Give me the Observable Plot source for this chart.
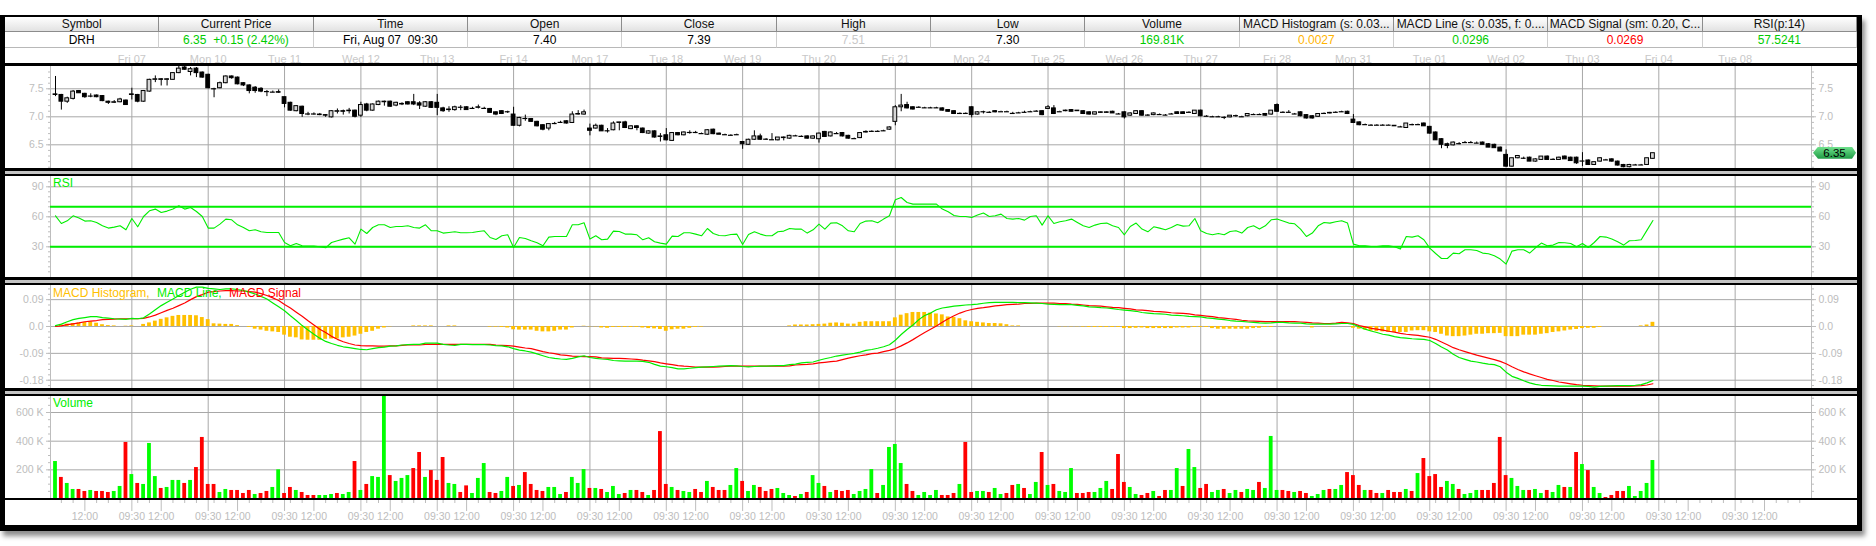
<!DOCTYPE html>
<html><head><meta charset="utf-8">
<script src="https://cdn.jsdelivr.net/npm/d3@7"></script>
<script src="https://cdn.jsdelivr.net/npm/@observablehq/plot@0.6"></script>
<style>
body{margin:0;background:#fff;font-family:"Liberation Sans",Arial,sans-serif;}
#root{position:relative;width:1876px;height:546px;overflow:hidden;background:#fff;}
</style></head><body><div id="root"></div>
<script>
// ---------------- DATA ----------------
const headerLabels = ["Symbol","Current Price","Time","Open","Close","High","Low","Volume","MACD Histogram (s: 0.03...","MACD Line (s: 0.035, f: 0....","MACD Signal (sm: 0.20, C...","RSI(p:14)"];
const headerValues = ["DRH","6.35  +0.15 (2.42%)","Fri, Aug 07  09:30","7.40","7.39","7.51","7.30","169.81K","0.0027","0.0296","0.0269","57.5241"];
const tradingDays = ["Thu 06","Fri 07","Mon 10","Tue 11","Wed 12","Thu 13","Fri 14","Mon 17","Tue 18","Wed 19","Thu 20","Fri 21","Mon 24","Tue 25","Wed 26","Thu 27","Fri 28","Mon 31","Tue 01","Wed 02","Thu 03"];
const axisDayLabels = ["Fri 07","Mon 10","Tue 11","Wed 12","Thu 13","Fri 14","Mon 17","Tue 18","Wed 19","Thu 20","Fri 21","Mon 24","Tue 25","Wed 26","Thu 27","Fri 28","Mon 31","Tue 01","Wed 02","Thu 03","Fri 04","Tue 08"];
const sessionSlots = ["09:30","10:00","10:30","11:00","11:30","12:00","12:30","13:00","13:30","14:00","14:30","15:00","15:30"];
const timeAxisLabels = ["09:30","12:00"];
const hourTickLabels = ["10:00","11:00","13:00","14:00","15:00"];
const priceTicks = [6.5, 7.0, 7.5];
const rsiTicks = [30, 60, 90];
const rsiBands = [70, 30];
const macdTicks = [0.09, 0.0, -0.09, -0.18];
const volumeTicks = [200, 400, 600];

const openPrice = [
7.40,7.39,7.27,7.32,7.46,7.41,7.37,7.38,7.37,7.27,7.25,7.26,7.29,
7.40,7.39,7.27,7.45,7.66,7.67,7.66,7.66,7.78,7.88,7.80,7.86,7.79,
7.75,7.50,7.51,7.60,7.72,7.70,7.60,7.56,7.52,7.50,7.45,7.44,7.44,
7.35,7.25,7.10,7.18,7.05,7.05,7.04,7.03,6.99,7.09,7.10,7.10,7.11,
7.02,7.22,7.11,7.21,7.27,7.27,7.20,7.23,7.26,7.26,7.24,7.18,7.26,
7.25,7.15,7.12,7.12,7.17,7.17,7.15,7.16,7.15,7.14,7.08,7.10,7.09,
7.04,6.84,6.97,6.96,6.91,6.85,6.79,6.88,6.90,6.92,6.89,7.04,7.04,
6.79,6.79,6.84,6.75,6.76,6.89,6.90,6.78,6.83,6.79,6.70,6.74,6.64,
6.67,6.57,6.71,6.67,6.72,6.72,6.70,6.68,6.77,6.70,6.68,6.67,6.68,
6.55,6.50,6.59,6.65,6.60,6.59,6.58,6.63,6.61,6.66,6.65,6.65,6.61,
6.60,6.73,6.65,6.70,6.71,6.66,6.61,6.62,6.72,6.74,6.74,6.75,6.77,
6.91,7.17,7.21,7.17,7.17,7.16,7.16,7.16,7.15,7.12,7.10,7.06,7.06,
7.17,7.04,7.09,7.08,7.10,7.09,7.09,7.06,7.07,7.08,7.09,7.10,7.10,
7.14,7.15,7.09,7.10,7.12,7.11,7.10,7.08,7.04,7.07,7.07,7.09,7.05,
7.08,7.02,7.05,7.10,7.03,7.03,7.04,7.03,7.05,7.08,7.08,7.08,7.05,
7.11,7.01,7.00,7.00,6.99,6.99,7.02,7.00,7.01,7.04,7.04,7.05,7.04,
7.21,7.08,7.08,7.05,7.08,7.03,7.01,7.00,7.06,7.06,7.08,7.09,7.09,
6.95,6.90,6.86,6.85,6.85,6.85,6.85,6.84,6.82,6.80,6.86,6.86,6.88,
6.82,6.72,6.60,6.51,6.49,6.52,6.54,6.54,6.53,6.54,6.51,6.50,6.45,
6.32,6.11,6.26,6.26,6.27,6.20,6.23,6.29,6.24,6.23,6.29,6.27,6.27,
6.21,6.22,6.14,6.20,6.23,6.24,6.20,6.14,6.10,6.14,6.14,6.14,6.25];
const highPrice = [
7.72,7.40,7.35,7.47,7.47,7.42,7.41,7.39,7.38,7.28,7.29,7.33,7.30,
7.51,7.40,7.47,7.67,7.73,7.68,7.68,7.79,7.90,7.90,7.88,7.88,7.80,
7.76,7.51,7.62,7.73,7.73,7.71,7.61,7.57,7.54,7.52,7.47,7.46,7.48,
7.35,7.26,7.20,7.19,7.08,7.07,7.06,7.04,7.11,7.14,7.12,7.15,7.12,
7.26,7.24,7.23,7.28,7.28,7.28,7.26,7.25,7.27,7.40,7.27,7.27,7.27,
7.40,7.17,7.18,7.19,7.20,7.18,7.17,7.21,7.17,7.15,7.09,7.11,7.10,
7.17,6.99,7.03,6.97,6.92,6.86,6.88,6.90,6.92,6.93,7.09,7.11,7.12,
6.87,6.87,6.85,6.79,6.91,6.90,6.92,6.84,6.84,6.80,6.75,6.75,6.70,
6.79,6.72,6.72,6.73,6.75,6.74,6.71,6.77,6.78,6.71,6.69,6.68,6.69,
6.56,6.60,6.75,6.69,6.61,6.70,6.63,6.64,6.67,6.67,6.66,6.66,6.66,
6.71,6.74,6.73,6.72,6.72,6.67,6.62,6.72,6.75,6.75,6.75,6.76,6.82,
7.20,7.40,7.26,7.18,7.18,7.17,7.17,7.17,7.16,7.13,7.11,7.07,7.07,
7.18,7.09,7.10,7.09,7.11,7.10,7.10,7.08,7.08,7.10,7.10,7.11,7.11,
7.20,7.20,7.10,7.12,7.13,7.11,7.11,7.09,7.08,7.09,7.09,7.10,7.06,
7.09,7.07,7.11,7.11,7.04,7.07,7.05,7.04,7.06,7.09,7.09,7.09,7.11,
7.12,7.02,7.01,7.01,7.00,7.02,7.03,7.01,7.05,7.05,7.05,7.06,7.11,
7.23,7.09,7.11,7.06,7.09,7.04,7.02,7.05,7.07,7.08,7.09,7.10,7.10,
7.04,6.91,6.87,6.86,6.86,6.86,6.86,6.84,6.83,6.88,6.87,6.87,6.89,
6.83,6.73,6.61,6.53,6.55,6.54,6.56,6.56,6.55,6.55,6.52,6.51,6.46,
6.41,6.26,6.31,6.28,6.28,6.25,6.29,6.30,6.25,6.28,6.30,6.28,6.28,
6.36,6.23,6.19,6.27,6.24,6.25,6.21,6.15,6.15,6.15,6.15,6.26,6.35];
const lowPrice = [
7.36,7.12,7.24,7.30,7.42,7.33,7.34,7.34,7.27,7.22,7.24,7.25,7.21,
7.30,7.25,7.26,7.44,7.61,7.55,7.55,7.65,7.77,7.83,7.73,7.70,7.69,
7.50,7.34,7.50,7.59,7.67,7.57,7.54,7.41,7.42,7.43,7.36,7.43,7.42,
7.16,7.10,7.09,6.99,7.02,7.03,7.02,6.99,6.98,7.05,7.03,7.05,6.98,
6.99,7.09,7.10,7.20,7.19,7.17,7.18,7.20,7.21,7.20,7.13,7.17,7.15,
7.02,7.08,7.08,7.10,7.11,7.12,7.13,7.14,7.13,7.06,7.02,7.04,7.06,
6.83,6.82,6.92,6.90,6.82,6.75,6.75,6.86,6.88,6.87,6.88,7.03,7.03,
6.66,6.78,6.74,6.71,6.75,6.75,6.79,6.77,6.75,6.70,6.69,6.62,6.55,
6.57,6.56,6.66,6.66,6.69,6.70,6.69,6.67,6.68,6.68,6.67,6.66,6.67,
6.42,6.49,6.58,6.58,6.58,6.58,6.57,6.57,6.60,6.65,6.64,6.60,6.60,
6.53,6.63,6.64,6.69,6.64,6.60,6.60,6.61,6.71,6.73,6.73,6.74,6.76,
6.84,7.09,7.14,7.12,7.16,7.15,7.15,7.15,7.10,7.08,7.04,7.04,7.05,
6.98,7.03,7.05,7.06,7.07,7.09,7.08,7.05,7.06,7.07,7.08,7.09,7.02,
7.13,7.04,7.09,7.09,7.09,7.10,7.04,7.03,7.03,7.06,7.06,7.06,7.04,
6.96,7.01,7.04,7.01,7.01,7.02,7.03,7.02,7.04,7.05,7.05,7.07,7.04,
7.00,7.00,6.99,6.99,6.95,6.98,6.99,6.99,7.00,7.03,7.03,7.01,7.03,
7.08,7.07,7.07,7.04,7.00,6.96,6.96,6.99,7.06,7.05,7.07,7.08,7.04,
6.88,6.84,6.85,6.84,6.84,6.84,6.85,6.83,6.81,6.80,6.84,6.85,6.83,
6.69,6.58,6.43,6.43,6.48,6.50,6.53,6.53,6.52,6.50,6.45,6.44,6.38,
6.10,6.10,6.25,6.24,6.20,6.19,6.22,6.23,6.23,6.22,6.24,6.21,6.15,
6.11,6.13,6.13,6.19,6.22,6.19,6.12,6.09,6.09,6.13,6.13,6.13,6.24];
const closePrice = [
7.39,7.27,7.33,7.45,7.42,7.35,7.37,7.35,7.28,7.25,7.26,7.31,7.21,
7.39,7.27,7.46,7.66,7.67,7.66,7.67,7.78,7.86,7.84,7.85,7.78,7.70,
7.51,7.50,7.60,7.72,7.69,7.58,7.56,7.46,7.46,7.45,7.45,7.44,7.43,
7.23,7.11,7.19,7.05,7.05,7.05,7.03,7.02,7.10,7.10,7.09,7.11,7.00,
7.21,7.11,7.22,7.27,7.26,7.18,7.25,7.22,7.22,7.22,7.20,7.26,7.16,
7.16,7.10,7.13,7.17,7.17,7.12,7.15,7.17,7.15,7.07,7.04,7.05,7.09,
6.84,6.98,6.97,6.91,6.83,6.77,6.87,6.88,6.90,6.88,7.04,7.05,7.08,
6.75,6.84,6.74,6.75,6.88,6.90,6.80,6.83,6.80,6.71,6.74,6.63,6.65,
6.58,6.71,6.67,6.72,6.72,6.72,6.70,6.76,6.69,6.68,6.68,6.67,6.68,
6.51,6.59,6.65,6.59,6.60,6.59,6.63,6.62,6.66,6.66,6.65,6.61,6.65,
6.70,6.64,6.72,6.70,6.65,6.61,6.61,6.71,6.73,6.74,6.74,6.75,6.81,
7.17,7.20,7.15,7.13,7.17,7.16,7.16,7.16,7.11,7.09,7.05,7.06,7.06,
7.03,7.08,7.09,7.08,7.08,7.09,7.09,7.06,7.07,7.08,7.09,7.10,7.03,
7.17,7.05,7.09,7.11,7.09,7.10,7.05,7.04,7.08,7.08,7.08,7.06,7.05,
6.99,7.06,7.10,7.02,7.03,7.06,7.04,7.03,7.05,7.05,7.05,7.08,7.11,
7.01,7.01,7.00,7.00,6.99,7.02,7.02,7.00,7.05,7.04,7.04,7.02,7.11,
7.09,7.08,7.08,7.05,7.01,6.97,6.97,7.05,7.06,7.07,7.08,7.09,7.05,
6.89,6.85,6.86,6.85,6.85,6.85,6.85,6.83,6.82,6.88,6.86,6.86,6.83,
6.70,6.58,6.50,6.48,6.54,6.52,6.54,6.54,6.53,6.50,6.45,6.44,6.38,
6.11,6.26,6.30,6.26,6.20,6.24,6.29,6.23,6.24,6.27,6.24,6.21,6.17,
6.21,6.14,6.19,6.26,6.23,6.20,6.13,6.10,6.14,6.14,6.14,6.26,6.35];
// volume in thousands of shares
const volumeK = [
258,147,105,63,63,49,56,49,49,42,49,84,391,
167,105,98,384,153,70,77,126,126,105,126,216,426,
98,98,42,63,56,56,35,56,28,35,49,77,200,
35,77,56,42,21,21,21,21,28,35,28,42,258,
56,98,153,147,716,160,119,140,160,209,321,147,195,
126,286,105,98,42,88,35,140,244,42,35,49,147,
84,91,181,98,56,49,77,77,28,42,147,105,202,
70,70,63,42,84,28,35,56,56,42,21,56,467,
98,77,56,49,42,63,42,119,77,56,56,91,209,
119,49,91,77,49,63,70,35,21,14,28,42,160,
105,84,42,56,49,56,28,49,63,202,35,91,356,
377,244,98,49,21,42,21,56,21,21,35,98,391,
42,49,49,42,70,28,35,91,98,70,28,112,321,
91,98,49,42,209,35,35,42,42,70,119,63,307,
112,77,28,21,35,49,14,56,56,209,84,342,216,
70,98,42,56,63,35,56,42,63,56,112,70,433,
56,56,49,42,49,35,14,28,56,63,63,91,181,
160,91,56,56,35,35,56,42,42,63,49,174,279,
153,167,77,119,98,63,28,35,56,56,56,105,426,
160,140,84,56,56,63,35,56,42,91,77,77,321,
237,195,77,35,7,21,49,49,84,14,49,105,265];
// g = up bar, r = down bar, one string per trading day
const volumeDir = [
"grggrrgrrrggr","grgggrgggrgrr","rrggrrrrgrrgg","rrgrrrgggrggr","grgggrgggrrgr",
"rrggrrgggrrgg","rgrrrrgggrggg","rgrgggrgrrgrr","rgrggrrgrrrgg","rggrrrgggrgrg",
"grgrrrggggrgg","ggrrggggrrrgr","rggrggrrgrggr","grgggrrrgggrr","rggrrgrrggrgg",
"rrggrggrggrgg","grrgrrgggrggr","rrgrrgrrrgrgr","rrrggrgggrrrr","rgggrggrggrgr","grggrrrrggggg"];
const rsiValues = [
61,53.3,56,61,58.7,55.7,56,54.3,51,48.7,49.7,51,47,
58.3,50,60.3,66,67.7,64.3,65.7,67.7,71,67.7,69.3,65.3,60.3,
48.7,48.7,52.7,57.7,57,52,49.3,46,47,45,44.3,44.3,44.3,
34.3,31,33.3,31,30.7,30.7,30,29,34.3,36,37.7,39,32.7,
47.7,43.3,49.3,52,52,49.3,50.3,50.3,51,49.3,48.7,52,46,
46,43.7,44.3,45,44,44,44.3,45.3,46,39.3,37.3,41,42,
29.3,39.3,38.3,36,34,31,39.7,40.3,40.3,40.3,52,52,54,
37.7,41,37,37.7,45.7,45.3,42.7,42.7,42,37,39,35,33.7,
32.7,40.7,40.3,44,44,42.7,41,48.3,43.3,41.3,41,42.3,42.7,
32.3,42.3,45,42.7,41,41,45,45.7,48.3,47.7,47.7,43.7,47,
52.7,47.7,53.7,54,51,46,45,53.3,55.7,56,54,57.7,61,
77,79.3,74.3,72.7,72.7,72.7,72.7,72.7,67.7,65,61.3,60.3,60.3,
59.3,61.7,63.7,60.3,61,62.7,58.3,57.7,58.3,56.7,60.3,61,51.7,
61,53.3,55,56,57.7,54.3,51,49.3,51.7,53.3,53.7,51,49.3,
42,50.3,53.7,47.7,45,50,48.7,47,49.3,52.3,50.7,51,58.3,
46,43.3,42,43.3,42,45.3,46,43.7,49.3,51,47.7,51,57,
57.7,55.7,53.7,53,47.7,40.3,43.7,51,54.3,53.7,55,56,53.7,
32.7,31,31,30.3,30.3,31,31,30,27.7,40.3,39.7,41,37,
28.7,23.3,18.3,18.3,23.7,23,27,27,26.3,23.7,23,21,17.7,
12.7,25.7,27,27,23.7,29,33.7,31,31.7,34.3,34,33.3,30,
33.3,29.3,34.3,40.3,39.7,37.7,35,31.7,36,36.3,37,46.7,56.3];
const macdLine = [
.003,.008,.016,.023,.027,.030,.033,.033,.030,.028,.026,.025,.024,
.027,.026,.029,.042,.056,.070,.081,.092,.104,.115,.125,.132,.132,
.128,.126,.124,.126,.126,.124,.120,.115,.109,.101,.092,.079,.066,
.053,.036,.020,.003,-.012,-.026,-.039,-.050,-.057,-.063,-.068,-.071,-.074,
-.077,-.078,-.074,-.071,-.069,-.066,-.065,-.062,-.061,-.060,-.060,-.056,-.056,
-.056,-.060,-.062,-.063,-.060,-.060,-.061,-.061,-.061,-.062,-.064,-.065,-.068,
-.074,-.079,-.082,-.086,-.092,-.098,-.104,-.107,-.109,-.110,-.107,-.102,-.098,
-.104,-.107,-.109,-.110,-.114,-.115,-.116,-.116,-.116,-.117,-.120,-.127,-.133,
-.135,-.138,-.142,-.142,-.140,-.138,-.136,-.135,-.134,-.133,-.132,-.131,-.132,
-.134,-.135,-.134,-.133,-.133,-.132,-.131,-.131,-.128,-.126,-.122,-.120,-.119,
-.113,-.108,-.104,-.099,-.096,-.093,-.090,-.086,-.080,-.077,-.073,-.068,-.061,
-.046,-.027,-.010,.005,.023,.037,.045,.056,.062,.065,.068,.070,.072,
.073,.075,.078,.080,.081,.081,.081,.081,.080,.080,.079,.078,.077,
.075,.074,.073,.073,.073,.071,.069,.066,.065,.063,.062,.060,.057,
.055,.053,.051,.047,.045,.043,.042,.041,.038,.037,.036,.034,.033,
.032,.029,.027,.025,.023,.020,.018,.017,.015,.014,.012,.011,.012,
.014,.014,.012,.011,.011,.009,.008,.008,.008,.008,.009,.010,.010,
.007,-.001,-.009,-.015,-.020,-.026,-.029,-.034,-.037,-.039,-.041,-.042,-.043,
-.047,-.057,-.069,-.079,-.093,-.104,-.110,-.116,-.119,-.123,-.126,-.128,-.135,
-.153,-.167,-.174,-.182,-.189,-.194,-.197,-.198,-.199,-.200,-.200,-.200,-.200,
-.200,-.201,-.203,-.201,-.200,-.199,-.198,-.198,-.198,-.197,-.195,-.189,-.181];
const macdSignal = [
0,.002,.006,.009,.012,.016,.018,.020,.023,.024,.025,.026,.026,
.026,.026,.027,.032,.038,.046,.054,.061,.070,.079,.090,.100,.107,
.115,.117,.119,.120,.120,.119,.119,.117,.115,.110,.104,.096,.087,
.074,.062,.048,.034,.019,.005,-.009,-.020,-.033,-.043,-.051,-.057,-.062,
-.064,-.065,-.065,-.066,-.066,-.065,-.065,-.063,-.062,-.062,-.062,-.060,-.060,
-.060,-.060,-.060,-.060,-.060,-.060,-.060,-.060,-.060,-.060,-.062,-.063,-.064,
-.066,-.069,-.072,-.074,-.079,-.084,-.088,-.091,-.095,-.097,-.099,-.100,-.101,
-.101,-.102,-.105,-.106,-.107,-.107,-.108,-.109,-.110,-.113,-.115,-.118,-.122,
-.125,-.128,-.131,-.133,-.134,-.136,-.136,-.136,-.136,-.135,-.134,-.133,-.133,
-.133,-.133,-.133,-.133,-.133,-.133,-.133,-.133,-.132,-.129,-.128,-.127,-.125,
-.122,-.120,-.118,-.116,-.111,-.106,-.102,-.098,-.095,-.091,-.089,-.084,-.080,
-.074,-.065,-.055,-.044,-.032,-.020,-.009,.002,.014,.026,.036,.045,.052,
.057,.061,.063,.066,.069,.071,.073,.074,.075,.077,.077,.078,.078,
.078,.078,.077,.077,.075,.074,.072,.070,.069,.068,.066,.064,.063,
.061,.059,.056,.055,.053,.051,.050,.048,.046,.045,.044,.042,.039,
.037,.035,.033,.030,.028,.026,.024,.021,.019,.018,.017,.016,.016,
.016,.016,.016,.016,.015,.014,.012,.011,.010,.010,.011,.014,.012,
.010,.003,-.001,-.006,-.009,-.012,-.016,-.019,-.023,-.026,-.028,-.030,-.033,
-.036,-.043,-.052,-.061,-.071,-.078,-.084,-.090,-.096,-.101,-.106,-.111,-.117,
-.125,-.135,-.144,-.152,-.159,-.165,-.171,-.177,-.181,-.186,-.189,-.192,-.195,
-.197,-.198,-.199,-.200,-.200,-.200,-.200,-.200,-.200,-.199,-.198,-.196,-.192];
const macdHist = [
0,.005,.008,.010,.012,.014,.015,.011,.006,.003,.002,0,.001,
.002,0,.007,.012,.018,.024,.029,.034,.037,.037,.037,.036,.030,
.023,.009,.008,.007,.007,.003,0,-.003,-.009,-.012,-.016,-.018,-.020,
-.029,-.036,-.038,-.045,-.046,-.046,-.046,-.043,-.042,-.042,-.038,-.036,-.032,
-.026,-.020,-.016,-.009,-.005,-.001,0,0,0,.002,.002,.002,.002,
0,0,.002,.002,0,0,0,0,0,-.002,-.002,-.003,-.005,
-.011,-.012,-.012,-.012,-.016,-.018,-.018,-.016,-.012,-.012,-.005,0,.001,
-.001,-.001,-.005,-.006,-.003,-.003,-.003,-.003,-.003,-.005,-.007,-.008,-.010,
-.016,-.011,-.009,-.009,-.006,-.003,-.002,0,0,0,0,0,0,
0,0,0,0,0,0,0,0,.002,.005,.005,.005,.006,
.007,.008,.011,.012,.011,.008,.008,.014,.016,.016,.016,.016,.016,
.029,.038,.043,.047,.047,.047,.045,.042,.039,.032,.030,.026,.019,
.016,.014,.012,.010,.010,.009,.006,.002,.002,0,0,0,0,
0,0,-.001,-.001,-.001,-.001,-.002,-.003,-.003,-.003,-.003,-.003,-.003,
-.007,-.007,-.006,-.005,-.007,-.007,-.007,-.007,-.007,-.005,-.005,-.005,-.003,
-.003,-.003,-.007,-.009,-.009,-.009,-.009,-.009,-.009,-.007,-.006,-.003,-.003,
0,0,0,0,-.001,0,-.005,0,-.001,-.001,0,0,0,
-.006,-.009,-.012,-.016,-.017,-.018,-.020,-.020,-.020,-.020,-.015,-.014,-.014,
-.018,-.020,-.026,-.032,-.034,-.034,-.032,-.029,-.026,-.026,-.024,-.024,-.023,
-.034,-.034,-.034,-.029,-.029,-.029,-.026,-.024,-.020,-.018,-.015,-.012,-.010,
-.007,-.006,-.006,-.003,0,0,0,0,0,0,.002,.005,.014];

// ---------------- STYLE / LAYOUT ----------------
const FONT = "'Liberation Sans', Arial, sans-serif";
const headerValueColors = ["#000","#00cc00","#000","#000","#000","#c8c8c8","#000","#00cc00","#ffb400","#00cc00","#ff0000","#00cc00"];
const GREEN = "#00ee00", RED = "#ff0000", ORANGE = "#ffc000";
const GRID = "#a8a8a8", AXIS = "#bdbdbd";
const W = 1852, ML = 45, MR = 46, LEFT = 5;
const X_DOMAIN = [-0.0655, 23.0];
const PX_PER_DAY = (W - ML - MR) / (X_DOMAIN[1] - X_DOMAIN[0]);
const halfW = (px) => px / PX_PER_DAY;

const nSlots = sessionSlots.length;
const bars = closePrice.map((c, i) => {
  const day = Math.floor(i / nSlots), slot = i % nSlots;
  return {
    day: tradingDays[day], time: sessionSlots[slot],
    x: day + slot / nSlots,
    o: openPrice[i], h: highPrice[i], l: lowPrice[i], c,
    v: volumeK[i], up: volumeDir[day][slot] === "g",
    rsi: rsiValues[i], ml: macdLine[i], ms: macdSignal[i], mh: macdHist[i]
  };
});
const gridDays = axisDayLabels.map((_, k) => k + 1);
const timeOffset = (t) => { const [hh, mm] = t.split(":").map(Number); return (hh + mm / 60 - 9.5) / 6.5; };
const nAxisDays = axisDayLabels.length + 1;
const openTicks = d3.range(1, nAxisDays).map(d => d + timeOffset(timeAxisLabels[0]));
const noonTicks = d3.range(0, nAxisDays).map(d => d + timeOffset(timeAxisLabels[1]));
const hourTicks = d3.range(0, nAxisDays).flatMap(d => hourTickLabels.map(t => d + timeOffset(t)));

const root = document.getElementById("root");
function box(css, html) { const d = document.createElement("div"); d.style.cssText = "position:absolute;box-sizing:border-box;" + css; if (html !== undefined) d.innerHTML = html; root.appendChild(d); return d; }

// frame
box("left:0;top:15px;width:1862px;height:516px;border-style:solid;border-color:#000;border-width:2px 5px 6px 5px;box-shadow:3px 5px 5px rgba(0,0,0,0.45);background:#fff;");

// header table
const colW = W / headerLabels.length;
headerLabels.forEach((lab, i) => {
  box(`left:${LEFT + i * colW}px;top:17px;width:${colW}px;height:15px;background:linear-gradient(#ffffff,#e2e2e2);border-right:1px solid #8c8c8c;border-bottom:1px solid #8c8c8c;font:12px ${FONT};line-height:14px;text-align:center;color:#111;white-space:pre;overflow:hidden;`, lab);
  box(`left:${LEFT + i * colW}px;top:32px;width:${colW}px;height:16px;background:#fff;border-right:1px solid #cfcfcf;border-bottom:1px solid #b8b8b8;font:12px ${FONT};line-height:16px;text-align:center;color:${headerValueColors[i]};white-space:pre;overflow:hidden;`, headerValues[i]);
});

const baseStyle = {fontFamily: FONT, fontSize: "10.5px", background: "transparent", overflow: "visible"};
function panel(top, opts) {
  const svg = Plot.plot({width: W, marginLeft: ML, marginRight: MR, style: baseStyle, ...opts});
  const wrap = box(`left:${LEFT}px;top:${top}px;`);
  wrap.appendChild(svg);
  return svg;
}
function yAxes(ticks, minor, fmt) {
  return [
    Plot.axisY({anchor: "left", ticks, tickSize: 4, tickPadding: 3, tickFormat: fmt, color: AXIS, label: null, fontSize: 10.5}),
    Plot.axisY({anchor: "right", ticks, tickSize: 4, tickPadding: 3, tickFormat: fmt, color: AXIS, label: null, fontSize: 10.5}),
    Plot.axisY({anchor: "left", ticks: minor, tickSize: 2, tickFormat: () => "", color: AXIS, label: null}),
    Plot.axisY({anchor: "right", ticks: minor, tickSize: 2, tickFormat: () => "", color: AXIS, label: null}),
    Plot.ruleX([X_DOMAIN[0], X_DOMAIN[1]], {stroke: AXIS})
  ];
}
const common = (ticks) => [
  Plot.gridX({ticks: gridDays, stroke: GRID, strokeOpacity: 1}),
  Plot.gridY({ticks, stroke: GRID, strokeOpacity: 1})
];

// price panel
const BW = halfW(1.9);
const priceSvg = panel(48, {
  height: 120, marginTop: 18, marginBottom: 0,
  x: {domain: X_DOMAIN, axis: null, label: null},
  y: {domain: [6.077, 7.898], axis: null, label: null},
  marks: [
    ...common(priceTicks),
    ...yAxes(priceTicks, d3.range(61, 79).map(v => v / 10), d => d.toFixed(1)),
    Plot.axisX({anchor: "top", ticks: gridDays, tickFormat: d => axisDayLabels[d - 1], tickSize: 0, tickPadding: 4, color: "#c8c8c8", fontSize: 11, label: null}),
    Plot.ruleX(bars, {x: "x", y1: "l", y2: "h", stroke: "#000", strokeWidth: 1}),
    Plot.rect(bars.filter(d => Math.abs(d.o - d.c) >= 0.005), {x1: d => d.x - BW, x2: d => d.x + BW, y1: "o", y2: "c", fill: d => d.c > d.o ? "#d6d6d6" : "#000", stroke: "#000", strokeWidth: 1}),
    Plot.ruleY(bars.filter(d => Math.abs(d.o - d.c) < 0.005), {y: "c", x1: d => d.x - BW * 1.3, x2: d => d.x + BW * 1.3, stroke: "#000", strokeWidth: 1.2})
  ]
});

// RSI panel
panel(176, {
  height: 101, marginTop: 0, marginBottom: 0,
  x: {domain: X_DOMAIN, axis: null, label: null},
  y: {domain: [-0.7, 100.3], axis: null, label: null},
  marks: [
    ...common(rsiTicks),
    ...yAxes(rsiTicks, d3.range(5, 100, 5), d => String(d)),
    Plot.ruleY(rsiBands, {stroke: "#00ee00", strokeWidth: 2}),
    Plot.line(bars, {x: "x", y: "rsi", stroke: GREEN, strokeWidth: 1.1})
  ]
});

// MACD panel
const HW = halfW(1.9);
panel(285, {
  height: 103, marginTop: 0, marginBottom: 0,
  x: {domain: X_DOMAIN, axis: null, label: null},
  y: {domain: [-0.2078, 0.1374], axis: null, label: null},
  marks: [
    ...common(macdTicks),
    ...yAxes(macdTicks, d3.range(-11, 8).map(k => k * 0.018), d => d === 0 ? "0.0" : (d < 0 ? "-" : "") + Math.abs(d).toFixed(2)),
    Plot.rectY(bars, {x1: d => d.x - HW, x2: d => d.x + HW, y: "mh", fill: ORANGE}),
    Plot.line(bars, {x: "x", y: "ms", stroke: RED, strokeWidth: 1.2}),
    Plot.line(bars, {x: "x", y: "ml", stroke: GREEN, strokeWidth: 1.2})
  ]
});

// Volume panel
const VW = halfW(1.9);
panel(395, {
  height: 130, marginTop: 0, marginBottom: 27,
  x: {domain: X_DOMAIN, axis: null, label: null},
  y: {domain: [0, 718.7], axis: null, label: null},
  marks: [
    ...common(volumeTicks),
    ...yAxes(volumeTicks, d3.range(50, 701, 50), d => d + " K"),
    Plot.rectY(bars, {x1: d => d.x - VW, x2: d => d.x + VW, y: "v", fill: d => d.up ? "#00ff00" : RED}),
    Plot.axisX({anchor: "bottom", ticks: hourTicks, tickSize: 5, tickFormat: () => "", color: AXIS, label: null}),
    Plot.axisX({anchor: "bottom", ticks: openTicks, tickSize: 13, tickPadding: 1, tickFormat: () => timeAxisLabels[0], color: AXIS, fontSize: 10.5, label: null}),
    Plot.axisX({anchor: "bottom", ticks: noonTicks, tickSize: 13, tickPadding: 1, tickFormat: () => timeAxisLabels[1], color: AXIS, fontSize: 10.5, label: null})
  ]
});

// separators between panels
[[63.3,"#000",2.5],[168,"#000",2.5],[170.5,"#c4c4c4",3],[173.5,"#000",2.5],
 [277,"#000",2.5],[279.5,"#c4c4c4",3],[282.5,"#000",2.5],
 [388,"#000",2.5],[390.5,"#c4c4c4",3],[393.5,"#000",2],[498,"#000",2]]
 .forEach(([t, c, h]) => box(`left:${LEFT}px;top:${t}px;width:${W}px;height:${h}px;background:${c};`));

// panel titles
const titleCss = `font:12px ${FONT};line-height:14px;white-space:pre;`;
box(`left:53px;top:176px;color:${GREEN};${titleCss}`, "RSI");
box(`left:53px;top:286px;color:${ORANGE};${titleCss}`, "MACD Histogram,");
box(`left:157px;top:286px;color:${GREEN};${titleCss}`, "MACD Line,");
box(`left:229px;top:286px;color:${RED};${titleCss}`, "MACD Signal");
box(`left:53px;top:396px;color:${GREEN};${titleCss}`, "Volume");

// current price tag
const lastClose = closePrice[closePrice.length - 1];
const tagY = 48 + priceSvg.scale("y").apply(lastClose);
box(`left:1813px;top:${tagY - 6}px;width:43px;height:12px;background:linear-gradient(#6fe08c,#1e9a44);clip-path:polygon(0 50%,5px 0,calc(100% - 4px) 0,100% 50%,calc(100% - 4px) 100%,5px 100%);font:11.5px ${FONT};line-height:12px;text-align:center;color:#000;`, lastClose.toFixed(2));
</script>
</body></html>
